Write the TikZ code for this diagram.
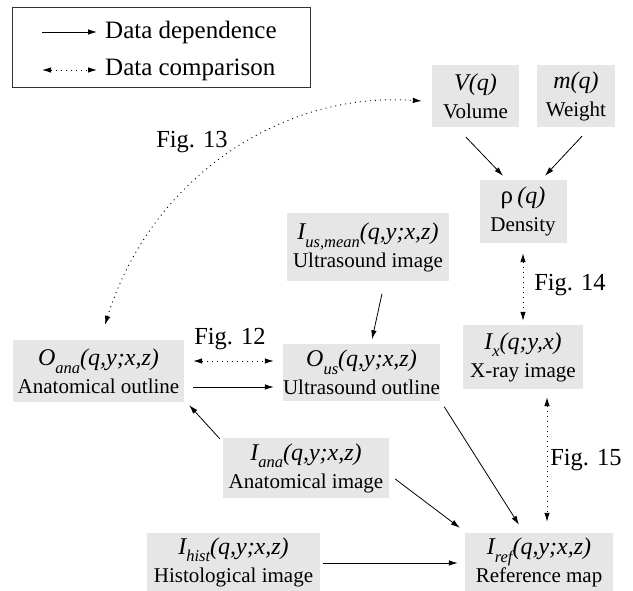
\documentclass[tikz,border=0pt]{standalone}
\usepackage{fontspec}
\setmainfont{Liberation Serif}
\usetikzlibrary{arrows.meta,calc}
\definecolor{boxgray}{RGB}{230,230,230}
\newcommand{\lsb}[1]{\raisebox{-0.33em}{\fontsize{16.5}{16.5}\selectfont\itshape #1}}
\newcommand{\mline}[1]{{\fontsize{24}{28}\selectfont\itshape #1}}
\tikzset{
  box/.style={fill=boxgray, draw=none, inner sep=0pt, align=center, font=\fontsize{21}{28}\selectfont},
  dep/.style={line width=0.8pt, -{Latex[length=9pt,width=5.5pt]}},
  cmp/.style={line width=0.9pt, dash pattern=on 1pt off 4pt, {Latex[length=9pt,width=5.5pt]}-{Latex[length=9pt,width=5.5pt]}},
  lbl/.style={inner sep=0pt, font=\fontsize{24.5}{28}\selectfont},
  legtext/.style={inner sep=0pt, anchor=west, font=\fontsize{25}{28}\selectfont},
}
\begin{document}
\begin{tikzpicture}[x=1pt,y=1pt]
\useasboundingbox (0,0) rectangle (633,-591);
% legend
\node[draw=black!80, line width=0.8pt, minimum width=298pt, minimum height=80pt, inner sep=0pt] (legend) at (161,-47) {};
\coordinate (l1a) at (42,-32);
\coordinate (l1b) at (97,-32);
\coordinate (l2a) at (42,-70);
\coordinate (l2b) at (97,-70);
\draw[dep] (l1a) -- (l1b);
\draw[cmp] (l2a) -- (l2b);
\node[legtext] (t1) at (105,-32) {Data dependence};
\node[legtext] (t2) at (105,-70) {Data comparison};
% boxes
\node[box, minimum width=87pt, minimum height=62pt] (V) at (475.5,-96) {\mline{V(q)}\\Volume};
\node[box, minimum width=78pt, minimum height=62pt] (m) at (576,-96) {\mline{m(q)}\\Weight};
\node[box, minimum width=87pt, minimum height=63pt] (rho) at (523,-211.5) {{\fontsize{25}{28}\selectfont ρ\,}\mline{(q)}\\Density};
\node[box, minimum width=162pt, minimum height=68pt] (Ium) at (368,-247.5) {\mline{I\lsb{us,mean}(q,y;x,z)}\\Ultrasound image};
\node[box, minimum width=171pt, minimum height=62pt] (Oana) at (98.5,-371) {\mline{O\lsb{ana}(q,y;x,z)}\\Anatomical outline};
\node[box, minimum width=157pt, minimum height=56pt] (Ous) at (361.5,-372.5) {\mline{O\lsb{us}(q,y;x,z)}\\Ultrasound outline};
\node[box, minimum width=120pt, minimum height=64pt] (Ix) at (523,-357) {\mline{I\lsb{x}(q;y,x)}\\X-ray image};
\node[box, minimum width=166pt, minimum height=60pt] (Iana) at (306,-468) {\mline{I\lsb{ana}(q,y;x,z)}\\Anatomical image};
\node[box, minimum width=173pt, minimum height=58pt] (Ihist) at (233.5,-562) {\mline{I\lsb{hist}(q,y;x,z)}\\Histological image};
\node[box, minimum width=148pt, minimum height=58pt] (Iref) at (539,-562) {\mline{I\lsb{ref}(q,y;x,z)}\\Reference map};
% labels
\node[lbl] (f13) at (192,-142) {Fig. 13};
\node[lbl] (f12) at (230,-339) {Fig. 12};
\node[lbl] (f14) at (570,-285) {Fig. 14};
\node[lbl] (f15) at (586,-460) {Fig. 15};
% connectors
\draw[dep] ([shift={(-9.5,-10)}]V.south) -- ([shift={(-20,4)}]rho.north);
\draw[dep] ([shift={(6,-9)}]m.south) -- ([shift={(22,4)}]rho.north);
\draw[cmp] ([shift={(0,-10)}]rho.south) -- ([shift={(0,4)}]Ix.north);
\draw[dep] ([shift={(14,-12)}]Ium.south) -- ([shift={(10.5,5)}]Ous.north);
\draw[cmp] ([shift={(9,10)}]Oana.east) -- ([shift={(-9,11.5)}]Ous.west);
\draw[dep] ([shift={(9,-16)}]Oana.east) -- ([shift={(-9,-14.5)}]Ous.west);
\draw[dep] ([shift={(-3,-1)}]Iana.north west) -- ([shift={(5,-3)}]Oana.south east);
\draw[dep] ([shift={(4,-6)}]Ous.south east) -- ([shift={(-20,8)}]Iref.north);
\draw[dep] ([shift={(6,-11)}]Iana.east) -- ([shift={(-5,5)}]Iref.north west);
\draw[dep] ([shift={(3,-1)}]Ihist.east) -- ([shift={(-7,-1)}]Iref.west);
\draw[cmp] ([shift={(24,-8)}]Ix.south) -- ([shift={(8,11)}]Iref.north);
\draw[cmp] ([shift={(6.5,15)}]Oana.north) .. controls (150,-180) and (280,-91) .. ([shift={(-10,-5)}]V.west);
\end{tikzpicture}
\end{document}
